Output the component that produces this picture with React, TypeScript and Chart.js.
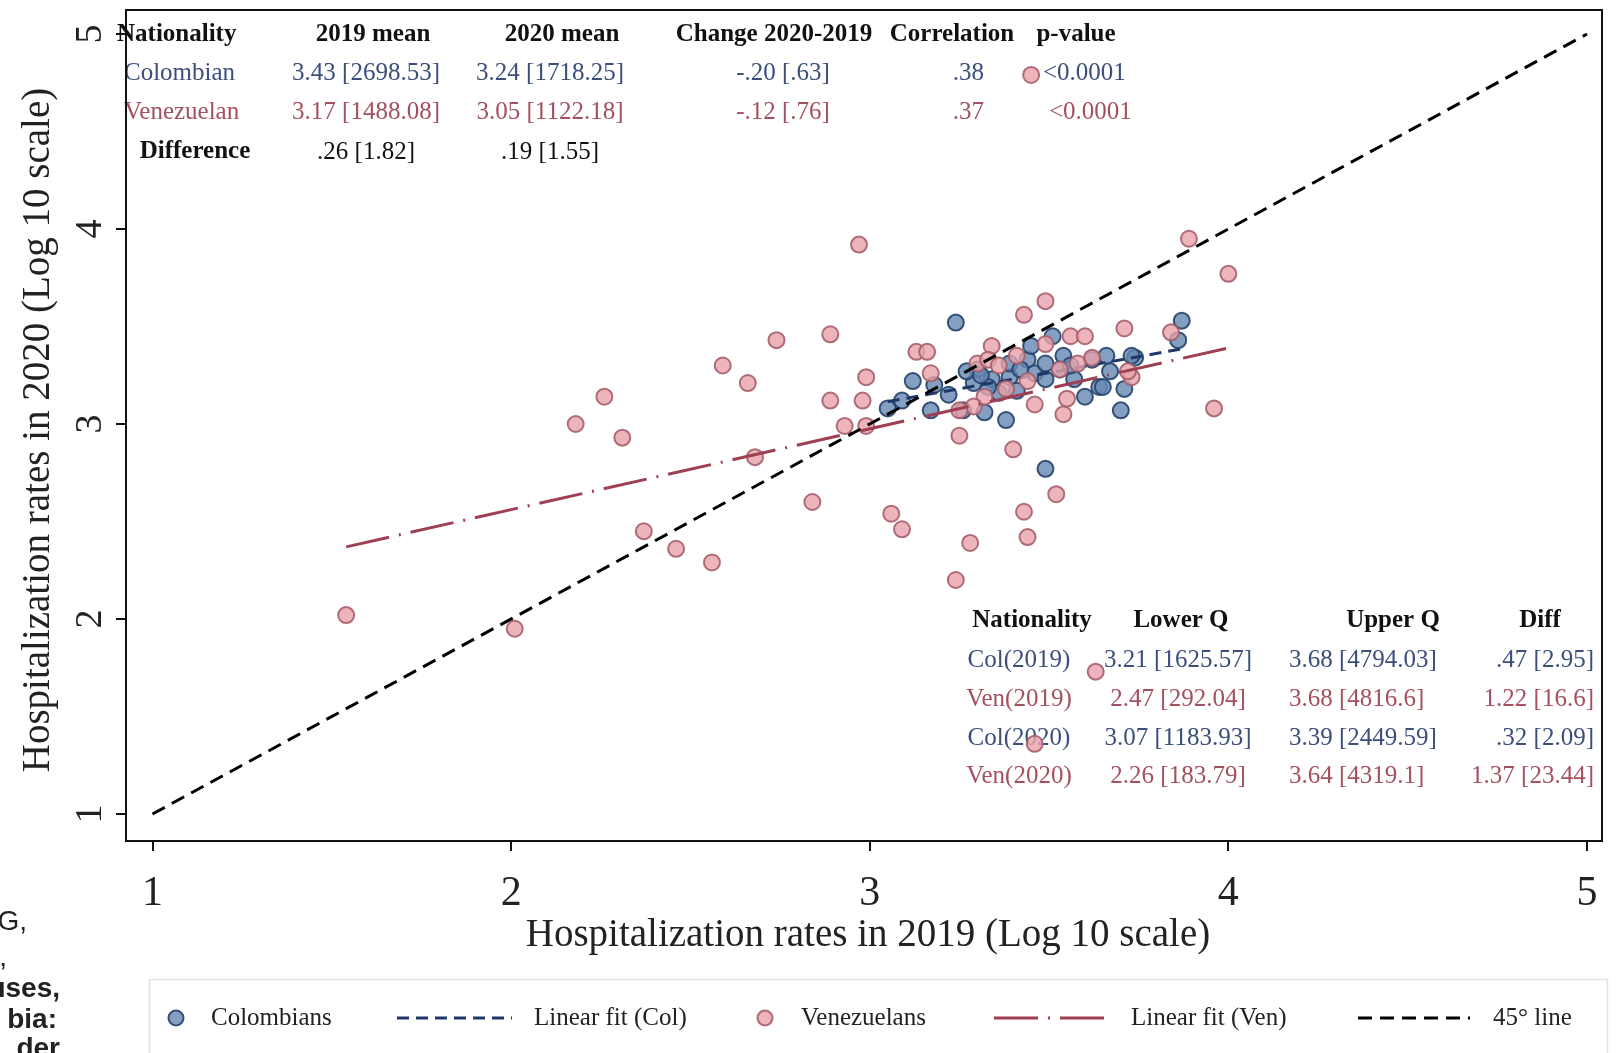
import React, { useEffect, useRef } from "react";
import { Chart, registerables } from "chart.js";
Chart.register(...registerables);

// ---------- data ----------
const xTicks = [1, 2, 3, 4, 5];
const yTicks = [1, 2, 3, 4, 5];

const colX = [3.24,3.12,3.05,3.09,3.17,3.26,3.32,3.38,3.49,3.51,3.54,3.66,3.74,3.87,3.86,3.71,3.70,3.64,3.60,3.67,3.30,3.34,3.39,3.44,3.46,3.49,3.53,3.41,3.36,3.33,3.29,3.49,3.57,3.62,3.45,3.39,3.27,3.31,3.42,3.22,3.18,3.56,3.65,3.73];
const colY = [3.52,3.22,3.08,3.12,3.07,3.07,3.06,3.02,2.77,3.45,3.35,3.35,3.34,3.53,3.43,3.18,3.07,3.19,3.14,3.27,3.28,3.23,3.24,3.33,3.26,3.23,3.28,3.17,3.16,3.19,3.21,3.31,3.23,3.33,3.40,3.31,3.27,3.25,3.28,3.15,3.20,3.30,3.19,3.35];

const venX = [1.54,2.01,2.18,2.26,2.31,2.37,2.46,2.56,2.59,2.66,2.68,2.74,2.84,2.89,2.89,2.97,2.93,2.98,2.99,2.99,3.06,3.09,3.13,3.16,3.17,3.24,3.25,3.28,3.34,3.40,3.43,3.43,3.44,3.46,3.49,3.52,3.54,3.55,3.56,3.60,3.62,3.71,3.63,3.46,3.84,3.89,3.96,4.00,3.45,3.30,3.33,3.36,3.32,3.29,3.25,3.53,3.49,3.41,3.58,3.73,3.72,3.38,3.44];
const venY = [2.02,1.95,3.00,3.14,2.93,2.45,2.36,2.29,3.30,3.21,2.83,3.43,2.60,3.46,3.12,3.92,2.99,3.12,3.24,2.99,2.54,2.46,3.37,3.37,3.26,2.20,2.94,2.39,3.40,2.87,3.56,2.55,2.42,3.10,3.63,2.64,3.05,3.13,3.45,3.45,3.34,3.49,1.73,1.36,3.47,3.95,3.08,3.77,4.79,3.31,3.33,3.30,3.14,3.09,3.07,3.28,3.41,3.35,3.31,3.24,3.27,3.18,3.22];

const colFitX = [3.05, 3.87];
const colFitY = [3.115, 3.385];
const venFitX = [1.54, 4.0];
const venFitY = [2.37, 3.39];
const diagX = [1, 5];
const diagY = [1, 5];

const seriesLabels = ["Colombians", "Linear fit (Col)", "Venezuelans", "Linear fit (Ven)", "45° line"];

const table1Header = ["Nationality", "2019 mean", "2020 mean", "Change 2020-2019", "Correlation", "p-value"];
const table1Rows = [
  ["Colombian", "3.43 [2698.53]", "3.24 [1718.25]", "-.20 [.63]", ".38", "<0.0001"],
  ["Venezuelan", "3.17 [1488.08]", "3.05 [1122.18]", "-.12 [.76]", ".37", "<0.0001"],
  ["Difference", ".26 [1.82]", ".19 [1.55]", "", "", ""],
];
const table2Header = ["Nationality", "Lower Q", "Upper Q", "Diff"];
const table2Rows = [
  ["Col(2019)", "3.21 [1625.57]", "3.68 [4794.03]", ".47 [2.95]"],
  ["Ven(2019)", "2.47 [292.04]", "3.68 [4816.6]", "1.22 [16.6]"],
  ["Col(2020)", "3.07 [1183.93]", "3.39 [2449.59]", ".32 [2.09]"],
  ["Ven(2020)", "2.26 [183.79]", "3.64 [4319.1]", "1.37 [23.44]"],
];
const captionLines = ["G,", ",", "uses,", "bia:", "der"];

// ---------- styles ----------
const SERIF = '"Liberation Serif", "Times New Roman", serif';
const SANS = '"Liberation Sans", Arial, sans-serif';
const NAVY_TXT = "#3b4f7a";
const MAROON_TXT = "#a4505f";
const W = 1616, H = 1053;
const PLOT = { left: 126, right: 1602, top: 10, bottom: 841 };
const XH = 50;

const toPts = (xs: number[], ys: number[]) => xs.map((x, i) => ({ x, y: ys[i] }));

const decor = {
  id: "decor",
  beforeDraw(chart: any) {
    const ctx = chart.ctx;
    ctx.save();
    ctx.fillStyle = "#fff";
    ctx.fillRect(0, 0, chart.width, chart.height);
    ctx.restore();
  },
  beforeDatasetsDraw(chart: any) {
    const ctx = chart.ctx;
    ctx.save();
    ctx.textBaseline = "middle";
    // table 1
    const t1y = [35, 73, 112, 152];
    ctx.font = `bold 25px ${SERIF}`;
    ctx.fillStyle = "#111";
    const h1x = [117, 373, 562, 774, 952, 1076];
    table1Header.forEach((t, i) => {
      ctx.textAlign = i === 0 ? "left" : "center";
      ctx.fillText(t, h1x[i], t1y[0]);
    });
    const rowColors = [NAVY_TXT, MAROON_TXT, "#111"];
    table1Rows.forEach((row, r) => {
      const y = t1y[r + 1];
      ctx.fillStyle = rowColors[r];
      row.forEach((t, i) => {
        if (!t) return;
        ctx.font = (r === 2 && i === 0 ? "bold " : "") + `25px ${SERIF}`;
        if (i === 0) {
          if (r === 2) { ctx.textAlign = "center"; ctx.fillText(t, 195, y); }
          else { ctx.textAlign = "left"; ctx.fillText(t, 124, y); }
        } else if (i === 1) { ctx.textAlign = "center"; ctx.fillText(t, 366, y); }
        else if (i === 2) { ctx.textAlign = "center"; ctx.fillText(t, 550, y); }
        else if (i === 3) { ctx.textAlign = "center"; ctx.fillText(t, 783, y); }
        else if (i === 4) { ctx.textAlign = "right"; ctx.fillText(t, 984, y); }
        else if (i === 5) { ctx.textAlign = "left"; ctx.fillText(t, r === 0 ? 1043 : 1049, y); }
      });
    });
    // table 2
    const t2y = [621, 660, 699, 738, 776];
    ctx.font = `bold 25px ${SERIF}`;
    ctx.fillStyle = "#111";
    const h2x = [1032, 1181, 1393, 1540];
    table2Header.forEach((t, i) => { ctx.textAlign = "center"; ctx.fillText(t, h2x[i], t2y[0]); });
    ctx.font = `25px ${SERIF}`;
    table2Rows.forEach((row, r) => {
      const y = t2y[r + 1];
      ctx.fillStyle = r % 2 === 0 ? NAVY_TXT : MAROON_TXT;
      ctx.textAlign = "center"; ctx.fillText(row[0], 1019, y);
      ctx.textAlign = "center"; ctx.fillText(row[1], 1178, y);
      ctx.textAlign = "left"; ctx.fillText(row[2], 1289, y);
      ctx.textAlign = "right"; ctx.fillText(row[3], 1594, y);
    });
    ctx.restore();
  },
  afterDraw(chart: any) {
    const ctx = chart.ctx;
    const ca = chart.chartArea;
    const xs = chart.scales.x, ys = chart.scales.y;
    ctx.save();
    // frame
    ctx.strokeStyle = "#111";
    ctx.lineWidth = 2;
    ctx.strokeRect(ca.left, ca.top, ca.right - ca.left, ca.bottom - ca.top);
    // tick labels
    ctx.fillStyle = "#222";
    ctx.textAlign = "center";
    ctx.textBaseline = "middle";
    ctx.font = `42px ${SERIF}`;
    xs.ticks.forEach((t: any) => {
      ctx.fillText(String(t.value), xs.getPixelForValue(t.value), 894);
    });
    ctx.font = `38px ${SERIF}`;
    ys.ticks.forEach((t: any) => {
      ctx.save();
      ctx.translate(91, ys.getPixelForValue(t.value));
      ctx.rotate(-Math.PI / 2);
      ctx.fillText(String(t.value), 0, 0);
      ctx.restore();
    });
    // titles
    ctx.font = `39px ${SERIF}`;
    ctx.fillText("Hospitalization rates in 2019 (Log 10 scale)", 868, 936);
    ctx.save();
    ctx.translate(39, 430);
    ctx.rotate(-Math.PI / 2);
    ctx.fillText("Hospitalization rates in 2020 (Log 10 scale)", 0, 0);
    ctx.restore();
    // legend box
    ctx.fillStyle = "#fff";
    ctx.strokeStyle = "#e2e2e2";
    ctx.lineWidth = 1.5;
    ctx.fillRect(149, 979, 1459, 90);
    ctx.strokeRect(149.5, 979.5, 1458, 90);
    const ly = 1018;
    const sampleX = [[176, 176], [397, 512], [765, 765], [994, 1106], [1358, 1470]];
    const textX = [211, 534, 801, 1131, 1493];
    chart.data.datasets.forEach((ds: any, i: number) => {
      ctx.save();
      if (ds.showLine) {
        ctx.strokeStyle = ds.borderColor;
        ctx.lineWidth = ds.borderWidth;
        ctx.setLineDash(ds.borderDash || []);
        ctx.beginPath();
        ctx.moveTo(sampleX[i][0], ly);
        ctx.lineTo(sampleX[i][1], ly);
        ctx.stroke();
      } else {
        ctx.fillStyle = ds.pointBackgroundColor;
        ctx.strokeStyle = ds.pointBorderColor;
        ctx.lineWidth = ds.pointBorderWidth;
        ctx.beginPath();
        ctx.arc(sampleX[i][0], ly, 7.5, 0, Math.PI * 2);
        ctx.fill();
        ctx.stroke();
      }
      ctx.restore();
      ctx.fillStyle = "#222";
      ctx.font = `25px ${SERIF}`;
      ctx.textAlign = "left";
      ctx.textBaseline = "middle";
      ctx.fillText(ds.label, textX[i], ly);
    });
    // cropped caption text at left
    const capY = [922, 958, 989, 1020, 1049];
    const capR = [27, 7, 60, 57, 60];
    captionLines.forEach((t, i) => {
      ctx.font = (i >= 2 ? "bold " : "") + `28px ${SANS}`;
      ctx.fillStyle = "#222";
      ctx.textAlign = "right";
      ctx.fillText(t, capR[i], capY[i]);
    });
    ctx.restore();
  },
};

export default function App() {
  const ref = useRef<HTMLCanvasElement>(null);
  useEffect(() => {
    document.body.style.margin = "0";
    const canvas = ref.current!;
    const axisCommon = {
      type: "linear" as const,
      ticks: { display: false },
      grid: { display: true, drawOnChartArea: false, drawTicks: true, tickLength: 10, color: "#111", lineWidth: 2 },
      border: { display: true, color: "#111", width: 2 },
    };
    const chart = new Chart(canvas, {
      type: "scatter",
      data: {
        datasets: [
          {
            label: seriesLabels[0], data: toPts(colX, colY), showLine: false,
            pointRadius: 8, pointBorderWidth: 2,
            pointBackgroundColor: "rgba(100,135,178,0.8)", pointBorderColor: "rgba(38,66,106,0.9)", order: 4,
          },
          {
            label: seriesLabels[1], data: toPts(colFitX, colFitY), showLine: true, pointRadius: 0,
            borderColor: "#1f3868", borderWidth: 3, borderDash: [12, 7], order: 3,
          },
          {
            label: seriesLabels[2], data: toPts(venX, venY), showLine: false,
            pointRadius: 8, pointBorderWidth: 2,
            pointBackgroundColor: "rgba(232,162,170,0.8)", pointBorderColor: "rgba(165,95,108,0.9)", order: 2,
          },
          {
            label: seriesLabels[3], data: toPts(venFitX, venFitY), showLine: true, pointRadius: 0,
            borderColor: "#9e3f52", borderWidth: 3, borderDash: [44, 10, 2, 10], order: 1,
          },
          {
            label: seriesLabels[4], data: toPts(diagX, diagY), showLine: true, pointRadius: 0,
            borderColor: "#000", borderWidth: 3, borderDash: [14, 8], order: 0,
          },
        ] as any,
      },
      options: {
        animation: false,
        responsive: false,
        events: [],
        layout: { padding: { left: 0, right: W - PLOT.right, top: PLOT.top, bottom: H - PLOT.bottom - XH } },
        plugins: { legend: { display: false }, tooltip: { enabled: false } },
        scales: {
          x: {
            ...axisCommon, position: "bottom",
            min: 1 - (152.5 - PLOT.left) / 358.6, max: 5 + (PLOT.right - 1587) / 358.6,
            afterBuildTicks: (s: any) => { s.ticks = xTicks.map((v) => ({ value: v })); },
            afterFit: (s: any) => { s.height = XH; },
          },
          y: {
            ...axisCommon, position: "left",
            min: 1 - (PLOT.bottom - 814) / 195, max: 5 + (34 - PLOT.top) / 195,
            afterBuildTicks: (s: any) => { s.ticks = yTicks.map((v) => ({ value: v })); },
            afterFit: (s: any) => { s.width = PLOT.left; },
          },
        } as any,
      },
      plugins: [decor],
    });
    return () => chart.destroy();
  }, []);
  return (
    <div style={{ position: "absolute", left: 0, top: 0, width: W, height: H, overflow: "hidden" }}>
      <canvas ref={ref} width={W} height={H} style={{ display: "block", width: W, height: H }} />
    </div>
  );
}
